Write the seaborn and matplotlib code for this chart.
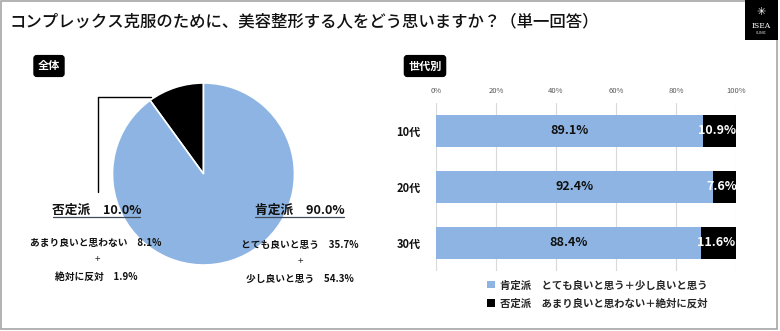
import matplotlib
matplotlib.use("Agg")
import matplotlib.pyplot as plt
import seaborn as sns
import pandas as pd
from matplotlib.lines import Line2D
from matplotlib.patches import Patch, Rectangle

sns.set_theme(style="white")
plt.rcParams['font.family'] = ['Noto Sans CJK JP', 'DejaVu Sans']

# ---------------- data ----------------
title = "コンプレックス克服のために、美容整形する人をどう思いますか？（単一回答）"
pie_labels = ["否定派", "肯定派"]
pie_values = [10.0, 90.0]
neg_detail = ["あまり良いと思わない", "絶対に反対"]
neg_detail_vals = [8.1, 1.9]
pos_detail = ["とても良いと思う", "少し良いと思う"]
pos_detail_vals = [35.7, 54.3]

ages = ["10代", "20代", "30代"]
positive = [89.1, 92.4, 88.4]
negative = [10.9, 7.6, 11.6]
x_ticks = [0, 20, 40, 60, 80, 100]
x_tick_labels = ["0%", "20%", "40%", "60%", "80%", "100%"]
legend_labels = ["肯定派　とても良いと思う＋少し良いと思う",
                 "否定派　あまり良いと思わない＋絶対に反対"]

BLUE = "#8DB4E2"
BLACK = "#000000"

W, H = 780, 331
fig = plt.figure(figsize=(W / 100, H / 100), dpi=100)
fig.patch.set_facecolor("white")


def fx(x):
    return x / W


def fy(y):
    return 1 - y / H


# border
fig.add_artist(Rectangle((fx(1), fy(329)), fx(777) - fx(1), fy(1) - fy(329),
                         transform=fig.transFigure, fill=False,
                         ec="#A6A6A6", lw=1.2))

# title
fig.text(fx(10), fy(22), title, fontsize=11.8, va="center", ha="left",
         color="#111111", weight="medium")

# logo
fig.add_artist(Rectangle((fx(745), fy(40)), fx(33), fy(0) - fy(40),
                         transform=fig.transFigure, fc="black", ec="none"))
fig.text(fx(761.5), fy(12), "✳", fontsize=8, color="white", ha="center", va="center",
         family=["DejaVu Sans"])
fig.text(fx(761.5), fy(26), "ISEA", fontsize=5.5, color="white", ha="center", va="center",
         family=["DejaVu Serif"])
fig.text(fx(761.5), fy(33), "CLINIC", fontsize=2.5, color="white", ha="center", va="center")

# section boxes
box = dict(boxstyle="round,pad=0.35,rounding_size=0.25", fc="black", ec="black")
fig.text(fx(49), fy(66), "全体", fontsize=8, color="white", weight="bold",
         ha="center", va="center", bbox=box)
fig.text(fx(425), fy(66), "世代別", fontsize=8, color="white", weight="bold",
         ha="center", va="center", bbox=box)

# ---------------- pie ----------------
cx, cy, r = 203.5, 174, 91
axp = fig.add_axes([fx(cx - r), fy(cy + r), 2 * r / W, 2 * r / H])
axp.pie(pie_values, colors=[BLACK, BLUE], startangle=90, counterclock=True,
        radius=1.0, wedgeprops=dict(edgecolor="white", linewidth=1.2))
axp.set_xlim(-1, 1)
axp.set_ylim(-1, 1)
axp.axis("off")

# leader line
fig.add_artist(Line2D([fx(151), fx(98), fx(98)], [fy(97), fy(97), fy(192)],
                      transform=fig.transFigure, color="black", lw=1))

# pie headers
neg_hdr = f"{pie_labels[0]}　{pie_values[0]:.1f}%"
pos_hdr = f"{pie_labels[1]}　{pie_values[1]:.1f}%"
fig.text(fx(96.5), fy(210), neg_hdr, fontsize=9.2, ha="center", va="center",
         weight="bold", color="#111111")
fig.add_artist(Line2D([fx(53), fx(140)], [fy(217), fy(217)],
                      transform=fig.transFigure, color="#3F4A5A", lw=0.9))
fig.text(fx(299.5), fy(210), pos_hdr, fontsize=9.2, ha="center", va="center",
         weight="bold", color="#111111")
fig.add_artist(Line2D([fx(255), fx(344)], [fy(217), fy(217)],
                      transform=fig.transFigure, color="#3F4A5A", lw=0.9))

small = dict(fontsize=7, ha="center", va="center", weight="bold", color="#111111")
fig.text(fx(96), fy(243), f"{neg_detail[0]}　{neg_detail_vals[0]:.1f}%", **small)
fig.text(fx(97), fy(259), "+", fontsize=7, ha="center", va="center", color="#333333")
fig.text(fx(96), fy(277), f"{neg_detail[1]}　{neg_detail_vals[1]:.1f}%", **small)
fig.text(fx(300), fy(245), f"{pos_detail[0]}　{pos_detail_vals[0]:.1f}%", **small)
fig.text(fx(300), fy(261), "+", fontsize=7, ha="center", va="center", color="#333333")
fig.text(fx(300), fy(279), f"{pos_detail[1]}　{pos_detail_vals[1]:.1f}%", **small)

# ---------------- bars ----------------
df = pd.DataFrame({"age": ages, "pos": positive, "neg": negative})
df["total"] = df["pos"] + df["neg"]

axb = fig.add_axes([fx(436), fy(271), 300 / W, 168 / H])
sns.barplot(data=df, y="age", x="total", color=BLACK, orient="h", width=0.57,
            ax=axb, saturation=1)
sns.barplot(data=df, y="age", x="pos", color=BLUE, orient="h", width=0.57,
            ax=axb, saturation=1)
for p in axb.patches:
    p.set_edgecolor("none")
axb.set_xlim(0, 100)
axb.set_ylim(2.5, -0.5)
axb.set_xticks(x_ticks)
axb.set_xticklabels(x_tick_labels, fontsize=5.5, color="#595959")
axb.xaxis.tick_top()
axb.tick_params(axis="x", length=0, pad=6)
axb.tick_params(axis="y", length=0, pad=11)
axb.set_yticks(range(len(ages)))
axb.set_yticklabels(ages, fontsize=8, weight="bold", color="#111111")
axb.set_xlabel("")
axb.set_ylabel("")
axb.grid(axis="x", color="#D9D9D9", lw=0.8)
axb.set_axisbelow(True)
for s in axb.spines.values():
    s.set_visible(False)

for i, (p, n) in enumerate(zip(positive, negative)):
    axb.text(p / 2, i, f"{p:.1f}%", ha="center", va="center", fontsize=9,
             weight="bold", color="#111111")
    axb.text(p + n / 2 - 1, i, f"{n:.1f}%", ha="center", va="center", fontsize=9,
             weight="bold", color="white")

handles = [Patch(fc=BLUE, ec="none"), Patch(fc=BLACK, ec="none")]
fig.legend(handles, legend_labels, loc="upper left",
           bbox_to_anchor=(fx(487), fy(280)), frameon=False,
           handlelength=0.75, handleheight=0.75, handletextpad=0.5,
           labelspacing=0.75, borderaxespad=0, borderpad=0,
           prop=dict(size=7.5, weight="bold"))

fig.savefig("out.png", dpi=100, facecolor="white")
